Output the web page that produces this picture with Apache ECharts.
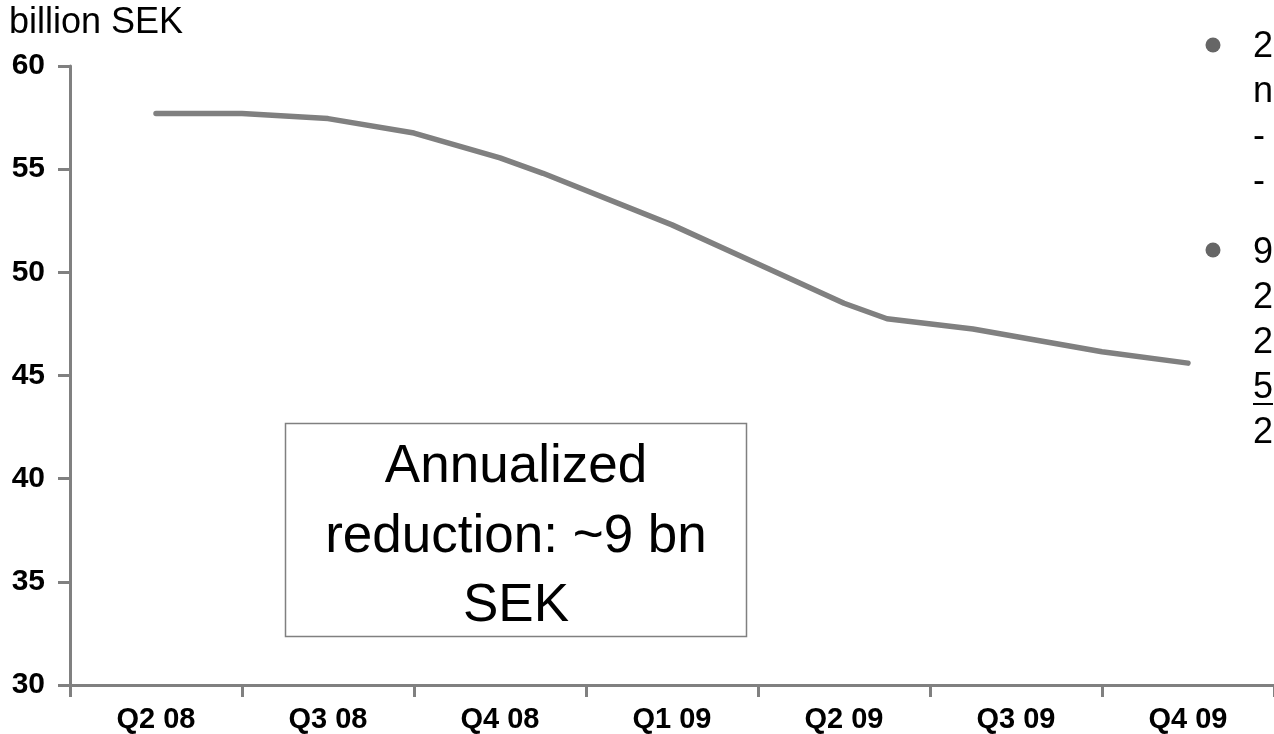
<!DOCTYPE html>
<html>
<head>
<meta charset="utf-8">
<script src="https://cdn.jsdelivr.net/npm/echarts@6/dist/echarts.min.js"></script>
<style>
  html, body { margin: 0; padding: 0; background: #ffffff; }
  #chart { width: 1274px; height: 734px; }
</style>
</head>
<body>
<div id="chart"></div>
<script>
// Quarter categories shown on the x axis
const categories = ['Q2 08', 'Q3 08', 'Q4 08', 'Q1 09', 'Q2 09', 'Q3 09', 'Q4 09'];
// Position of each line point, in quarters from Q2 08
const quarterPos = [0, 0.5, 1, 1.5, 2, 2.25, 3, 3.5, 4, 4.25, 4.75, 5.5, 6];
// Cost level, billion SEK
const costValues = [57.7, 57.7, 57.45, 56.75, 55.55, 54.8, 52.3, 50.4, 48.5, 47.75, 47.25, 46.15, 45.6];
// Y axis range
const yMin = 30, yMax = 60, yStep = 5;
// Texts
const unitLabel = 'billion SEK';
const boxText = 'Annualized\nreduction: ~9 bn\nSEK';
const sideLines1 = ['2', 'n', '-', '-'];
const sideLines2 = ['9', '2', '2', '5', '2'];

const FONT = "'Liberation Sans', Arial, Helvetica, sans-serif";
const GREY = '#808080';

const chart = echarts.init(document.getElementById('chart'), null, { renderer: 'canvas' });

const linePoints = quarterPos.map((q, i) => [q, costValues[i]]);

const graphics = [];
graphics.push({
  type: 'text', left: 9, top: 5,
  style: { text: unitLabel, font: '36px ' + FONT, fill: '#000' }
});
// annotation box
graphics.push({
  type: 'rect', shape: { x: 285.5, y: 423.5, width: 461, height: 213 },
  style: { fill: '#fff', stroke: GREY, lineWidth: 1.5 }, z: 10
});
graphics.push({
  type: 'text', x: 516, y: 537, z: 11,
  style: { text: boxText, font: '53px ' + FONT, fill: '#000', align: 'center', verticalAlign: 'middle', lineHeight: 69.5 }
});
// truncated bullet text at the right
const bl1 = [57, 102, 147, 192];
const bl2 = [263, 308, 353, 398, 443];
sideLines1.forEach((t, i) => graphics.push({
  type: 'text', x: 1253, y: bl1[i] - 10,
  style: { text: t, font: '36px ' + FONT, fill: '#000', align: 'left', verticalAlign: 'middle' }
}));
sideLines2.forEach((t, i) => graphics.push({
  type: 'text', x: 1253, y: bl2[i] - 10,
  style: { text: t, font: '36px ' + FONT, fill: '#000', align: 'left', verticalAlign: 'middle' }
}));
[45, 250].forEach(cy => graphics.push({
  type: 'circle', shape: { cx: 1213, cy: cy, r: 7.5 },
  style: { fill: '#666' }
}));
graphics.push({
  type: 'line', shape: { x1: 1253, y1: 404, x2: 1273, y2: 404 },
  style: { stroke: '#000', lineWidth: 2 }
});

chart.setOption({
  backgroundColor: '#ffffff',
  animation: false,
  grid: { left: 70, top: 66, width: 1213, height: 620, containLabel: false },
  xAxis: [
    {
      type: 'category',
      data: categories,
      boundaryGap: true,
      axisLine: { show: true, onZero: false, lineStyle: { color: GREY, width: 3 } },
      axisTick: { show: true, length: 12, lineStyle: { color: GREY, width: 3 } },
      axisLabel: { color: '#000', fontFamily: FONT, fontWeight: 'bold', fontSize: 29, margin: 20 },
      splitLine: { show: false }
    },
    {
      type: 'value', min: -0.5, max: 6.5, show: false
    }
  ],
  yAxis: {
    type: 'value', min: yMin, max: yMax, interval: yStep,
    axisLine: { show: true, onZero: false, lineStyle: { color: GREY, width: 3 } },
    axisTick: { show: true, length: 12, lineStyle: { color: GREY, width: 3 } },
    axisLabel: { color: '#000', fontFamily: FONT, fontWeight: 'bold', fontSize: 30, margin: 25 },
    splitLine: { show: false }
  },
  series: [{
    type: 'line',
    xAxisIndex: 1,
    data: linePoints,
    symbol: 'none',
    smooth: false,
    lineStyle: { color: GREY, width: 5.5, cap: 'round', join: 'round' }
  }],
  graphic: graphics
});
</script>
</body>
</html>
